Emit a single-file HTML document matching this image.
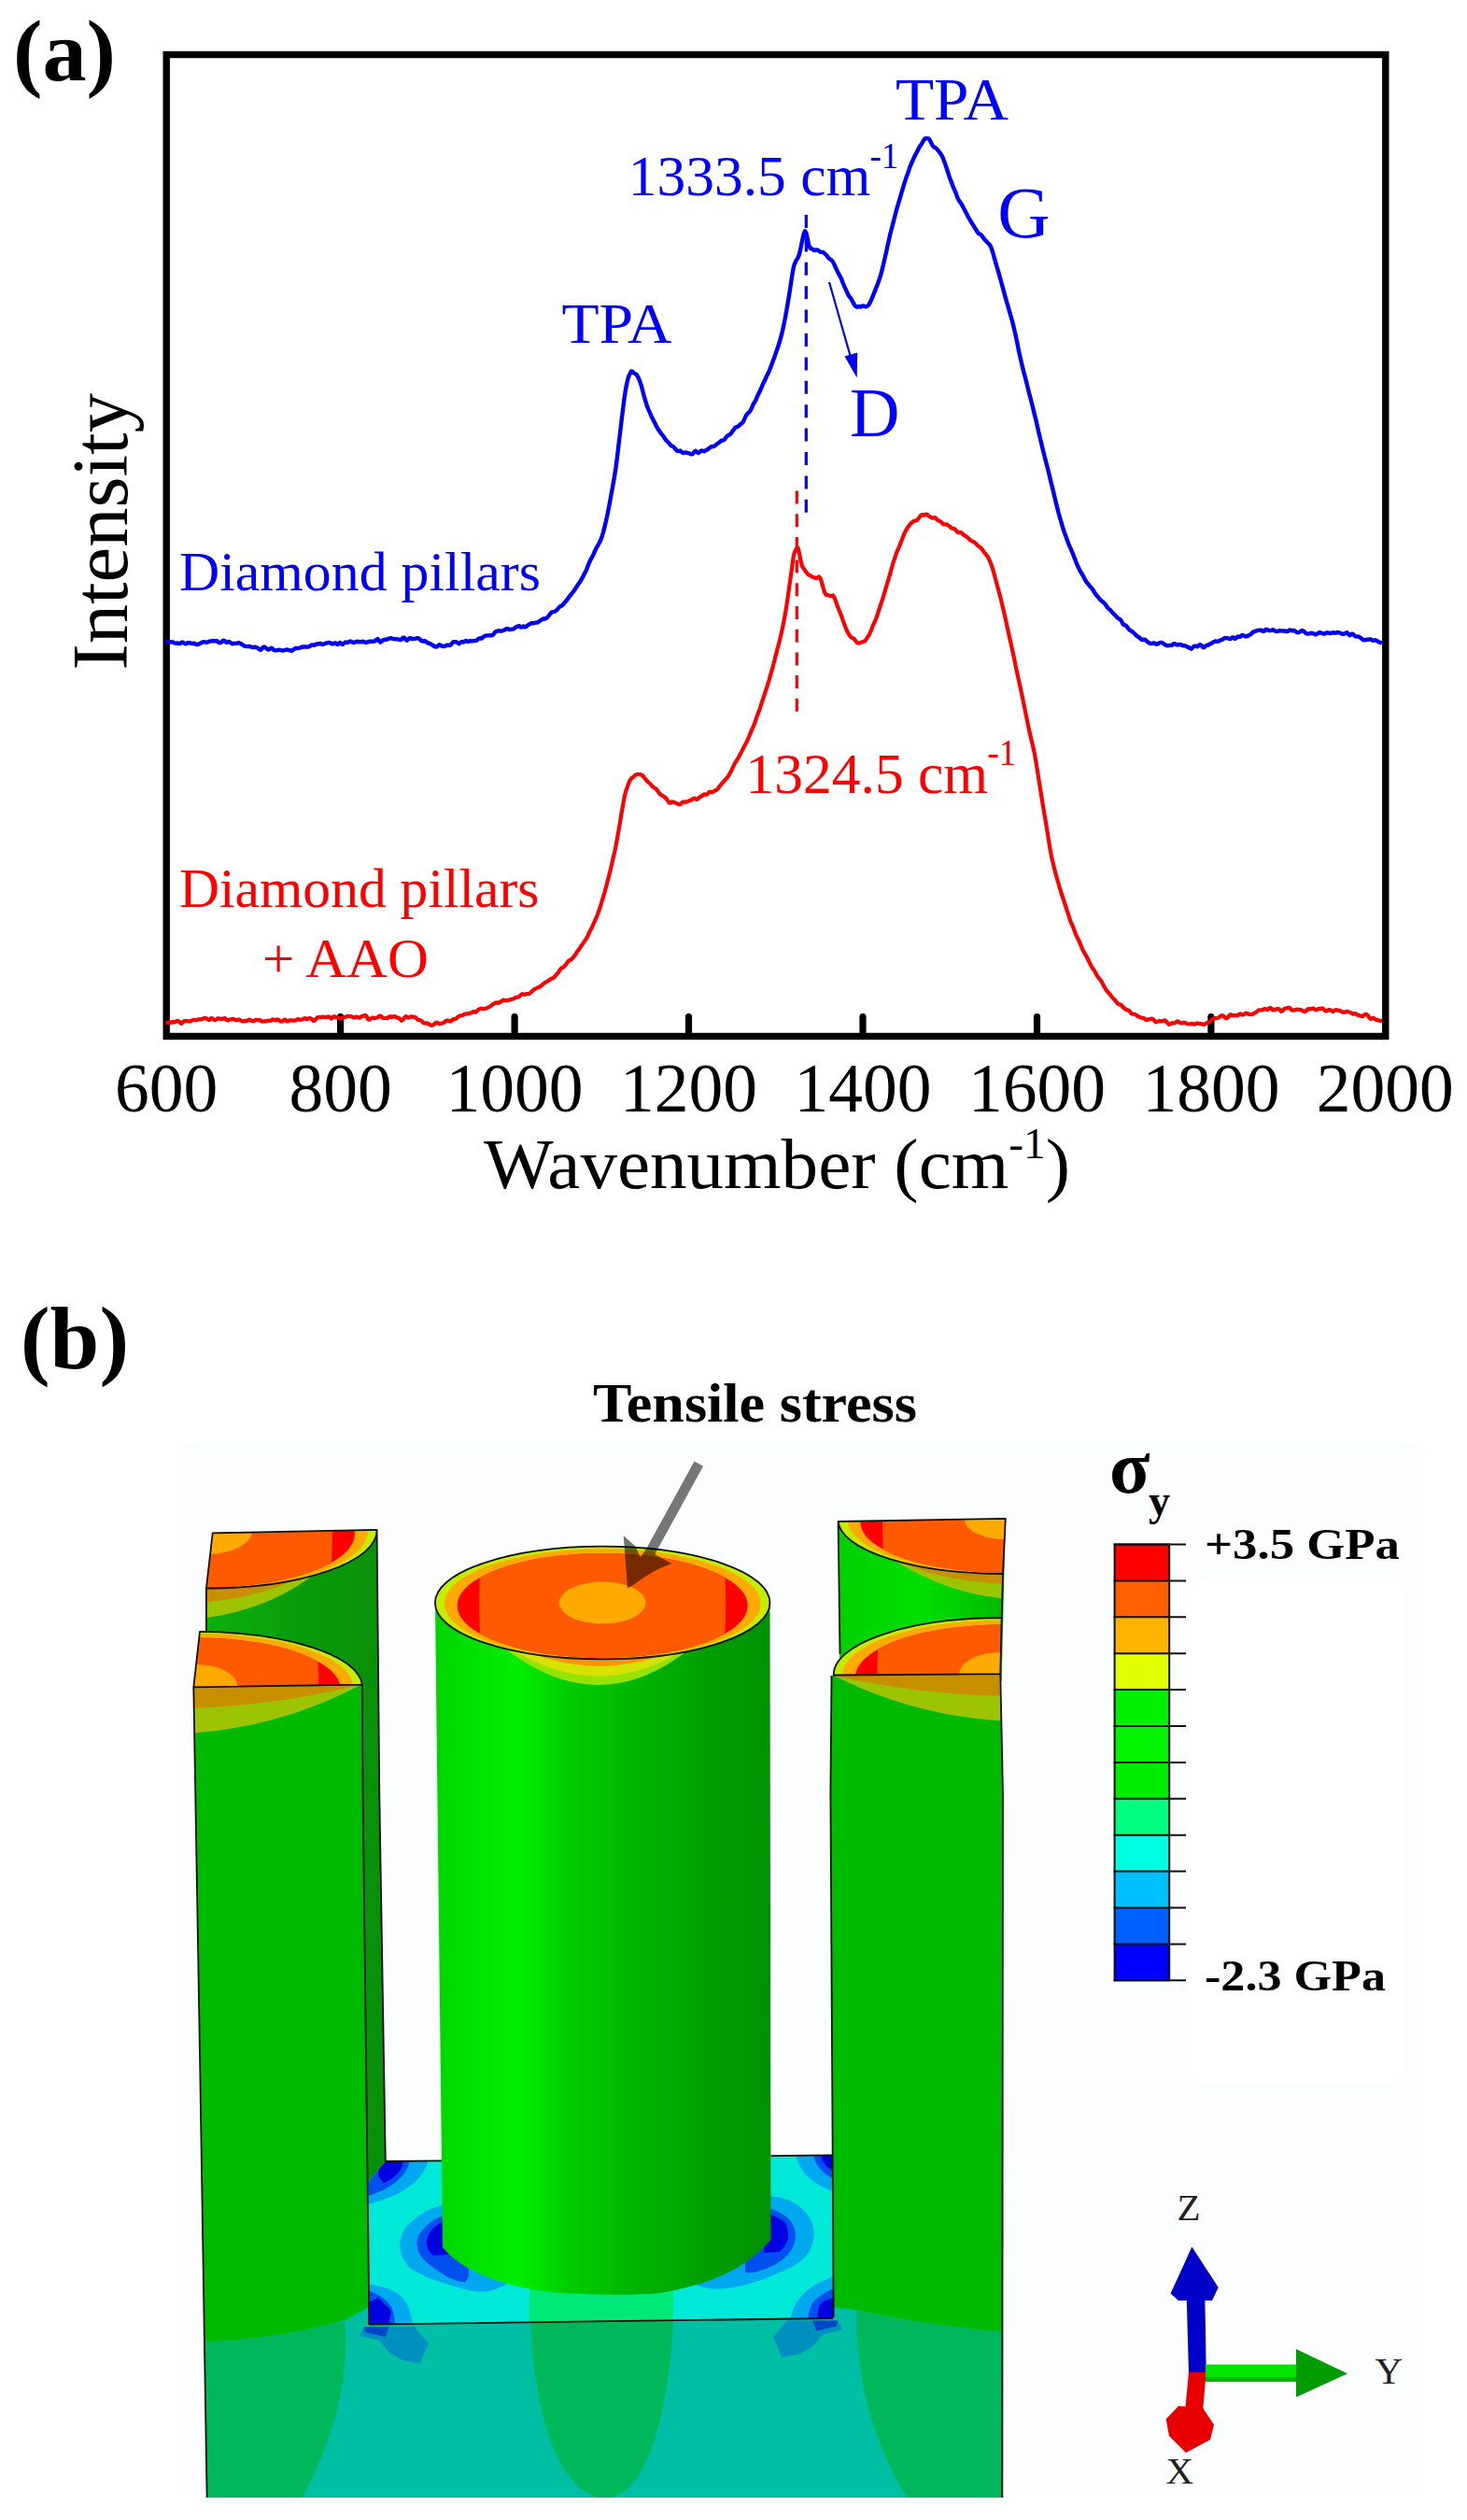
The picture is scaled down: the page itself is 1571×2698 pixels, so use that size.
<!DOCTYPE html>
<html><head><meta charset="utf-8"><title>Figure</title>
<style>html,body{margin:0;padding:0;background:#fff;}svg{display:block}</style></head>
<body>
<svg width="1571" height="2698" viewBox="0 0 1571 2698">
<rect width="1571" height="2698" fill="#fff"/>
<g id="b">
<rect x="188" y="1546" width="1337" height="1126" fill="#fbfdfe"/><rect x="1276" y="1690" width="228" height="542" rx="20" fill="#ffffff"/>
<defs>
<linearGradient id="cyl" x1="0" x2="1" y1="0" y2="0">
<stop offset="0" stop-color="#00d600"/><stop offset="0.25" stop-color="#00ee00"/><stop offset="0.40" stop-color="#00cc00"/><stop offset="0.62" stop-color="#00b200"/><stop offset="0.86" stop-color="#009a00"/><stop offset="1" stop-color="#009200"/></linearGradient>
<linearGradient id="bl" x1="0" x2="1" y1="0" y2="0">
<stop offset="0" stop-color="#0cb00c"/><stop offset="0.5" stop-color="#0a9c0a"/><stop offset="1" stop-color="#089008"/></linearGradient>
<linearGradient id="br" x1="0" x2="1" y1="0" y2="0">
<stop offset="0" stop-color="#00d000"/><stop offset="0.5" stop-color="#00e000"/><stop offset="1" stop-color="#00b800"/></linearGradient>
<clipPath id="cBL"><path d="M227.7,1641.3 L403.6,1637.8 A182,62 0 0 1 220.9,1700.5 Z"/></clipPath>
<clipPath id="cFL"><path d="M214,1746.9 A178,59 0 0 1 387.8,1803.6 L207.3,1806.3 Z"/></clipPath>
<clipPath id="cBR"><path d="M897.6,1629 L1076.8,1625.8 L1074,1685 A178,58 0 0 1 897.6,1629 Z"/></clipPath>
<clipPath id="cFR"><path d="M892.7,1793.5 A180,61 0 0 1 1072.7,1732 L1071.3,1792.2 Z"/></clipPath>
<clipPath id="cC"><ellipse cx="645.2" cy="1716" rx="179.3" ry="60.4"/></clipPath>
<clipPath id="cFloor"><path d="M394.5,2488.6 L394.2,2337 L412.8,2314 L892,2307.4 L892.2,2482 Z"/></clipPath>
<clipPath id="cBLside"><path d="M220.9,1700.5 A182,62 0 0 0 403.6,1637.8 L412.8,2314 L395,2320 L220,1760 Z"/></clipPath>
<clipPath id="cBRside"><path d="M897.6,1629 A178,58 0 0 0 1074,1685 L1074,1800 L899.5,1800 Z"/></clipPath>
<clipPath id="cFLface"><path d="M207.3,1806.3 L387.8,1803.6 L395.4,2489 L221.6,2674 Z"/></clipPath>
<clipPath id="cFRface"><path d="M890.5,1794 L1071.3,1792.2 L1073.3,2674 L892.7,2481 Z"/></clipPath>
<clipPath id="cCyl"><path d="M466,1716 L474,2406 C490,2425 520,2444 584.5,2453.6 C620,2457 680,2458 705,2455 C760,2447 800,2428 825.5,2398 L824.5,1716 Z"/></clipPath>
</defs>
<path d="M227.7,1641.3 L403.6,1637.8 L406.3,1920 L412.8,2314 L394,2338 L300,2338 L220.9,1760 L220.9,1700.5 Z" fill="url(#bl)"/>
<g clip-path="url(#cBLside)">
<path d="M215,1690 L215,1733 Q300,1722 352,1672 Z" fill="#9cc400"/>
<path d="M215,1690 L215,1716 Q290,1710 345,1676 Z" fill="#c89000"/>
</g>
<g clip-path="url(#cBL)">
<ellipse cx="222" cy="1639" rx="182" ry="62" fill="#c4ee00"/>
<ellipse cx="222" cy="1640" rx="172.0" ry="60.3" fill="#ffaa00"/>
<ellipse cx="222" cy="1642" rx="158.0" ry="57.4" fill="#ff0000"/>
<clipPath id="cBL_in"><ellipse cx="222" cy="1642" rx="158.0" ry="57.4"/></clipPath>
<g clip-path="url(#cBL_in)"><path d="M91.0,1577 Q85.0,1639 91.0,1701 L353.0,1701 Q359.0,1639 353.0,1577 Z" fill="#ff5a00"/></g>
<ellipse cx="222" cy="1639" rx="48" ry="25" fill="#ffaa00"/>
</g>
<path d="M227.7,1641.3 L403.6,1637.8 A182,62 0 0 1 220.9,1700.5 Z M403.6,1637.8 L406.3,1920 L412.8,2314 M220.9,1700.5 L220.9,1748" stroke="#101008" stroke-width="1.8" fill="none" stroke-linejoin="round"/>
<path d="M897.6,1629 L1076.8,1625.8 L1072.7,1800 L899.5,1800 Z" fill="url(#br)"/>
<g clip-path="url(#cBRside)">
<path d="M1080,1680 L1080,1712 Q1010,1706 950,1666 Z" fill="#9cc400"/>
<path d="M1080,1680 L1080,1696 Q1010,1694 958,1670 Z" fill="#c89000"/>
</g>
<g clip-path="url(#cBR)">
<ellipse cx="1076" cy="1627" rx="178" ry="58" fill="#c4ee00"/>
<ellipse cx="1076" cy="1628" rx="168.2" ry="56.4" fill="#ffaa00"/>
<ellipse cx="1076" cy="1630" rx="154.5" ry="53.7" fill="#ff0000"/>
<clipPath id="cBR_in"><ellipse cx="1076" cy="1630" rx="154.5" ry="53.7"/></clipPath>
<g clip-path="url(#cBR_in)"><path d="M947.8,1569 Q941.8,1627 947.8,1685 L1204.2,1685 Q1210.2,1627 1204.2,1569 Z" fill="#ff5a00"/></g>
<ellipse cx="1076" cy="1627" rx="43" ry="21" fill="#ffaa00"/>
</g>
<path d="M897.6,1629 L1076.8,1625.8 L1074,1685 A178,58 0 0 1 897.6,1629 Z M897.6,1629 L899.5,1771 M1074,1685 L1072.7,1733" stroke="#101008" stroke-width="1.8" fill="none" stroke-linejoin="round"/>
<path d="M207.3,1806.3 L387.8,1803.6 L388.6,1920 L395.4,2489 L892.7,2481 L889.4,1920 L890.5,1794 L1071.3,1792.2 L1074,1920 L1073.3,2674 L221.6,2674 L214,2200 Z" fill="#00ba00"/>
<clipPath id="cBase"><path d="M217.8,2440 L395.4,2440 L395.4,2489 L892.7,2481 L892.7,2440 L1073.3,2440 L1073.3,2674 L221.6,2674 Z"/></clipPath>
<g clip-path="url(#cBase)">
<path d="M200,2508 Q300,2506 371,2483 L395,2470 L892,2470 L916,2473 Q990,2490 1080,2497 L1080,2680 L200,2680 Z" fill="#00bfa5"/>
<path d="M200,2508 Q300,2506 369,2484 C373,2530 368,2590 324,2674 L200,2674 Z" fill="#00b85c"/>
<path d="M567.7,2480 C572,2590 598,2662 640,2674 L655,2674 C696,2662 716,2580 721.5,2480 Z" fill="#00b85c"/>
<path d="M1080,2497 Q990,2490 917,2474 C917,2530 926,2600 971.4,2674 L1080,2674 Z" fill="#00b85c"/>
<path d="M384.8,2501.0 L389.6,2491.0 L444.0,2491.0 L459.0,2508.7 L449.7,2530.6 L430.6,2526.8 L417.0,2519.0 L405.8,2505.8 Z" fill="#0090c0"/>
<path d="M389.6,2491.0 L417.0,2491.0 L412.5,2502.0 L391.5,2497.0 Z" fill="#0046c8"/>
<path d="M902.2,2494.5 L897.4,2484.5 L843.0,2484.5 L828.0,2502.2 L837.3,2524.1 L856.4,2520.3 L870.0,2512.5 L881.2,2499.3 Z" fill="#0090c0"/>
<path d="M897.4,2484.5 L870.0,2484.5 L874.5,2495.5 L895.5,2490.5 Z" fill="#0046c8"/>
</g>
<g clip-path="url(#cFloor)">
<rect x="390" y="2300" width="510" height="195" fill="#00e8d8"/>
<path d="M567,2440 L721,2440 L721,2492 L567,2492 Z" fill="#00e878"/>
<path d="M480,2359.5 C462,2362 447.5,2371.8 436,2383 C426,2396 427,2408 431,2416.8 C436,2426 440,2430 447.5,2433 C460,2440 470,2443 482,2446.4 C495,2450 505,2453 513,2453.6 C522,2454 530,2452 542,2446 L534,2400 L480,2400 Z" fill="#00a8f0"/>
<path d="M480,2370.8 C470,2373 462,2378 457.7,2382 C449,2390 446,2396 446.5,2402.5 C447,2410 450,2416 455.7,2420.9 C462,2427 470,2432 478,2437 C485,2441 492,2443 498.6,2443.4 L502,2437 L502,2400 L480,2400 Z" fill="#0050f0"/>
<path d="M480,2376 C470,2380 465,2384 461.8,2388 C458,2393 456.5,2398 456.7,2402.5 C457.5,2408 460,2412 463.8,2414.7 L480,2414 Z" fill="#0000e0"/>
<path d="M820,2351 C838,2352 848,2356 855,2361.6 C866,2370 871,2380 871.5,2388 C872,2398 870,2406 865.4,2412.7 C858,2422 848,2428 834.7,2433 C822,2439 808,2444 793.8,2447.5 C780,2450 772,2451 764,2450.5 C756,2450 750,2448 742,2445 L759,2400 L820,2400 Z" fill="#00a8f0"/>
<path d="M820,2363.6 C832,2366 840,2371 845,2376 C850,2382 852,2388 852,2394 C851.5,2403 848,2410 840.9,2416.8 C833,2424 824,2428 814,2431 C808,2433 804,2433.5 798,2433 L798,2400 L820,2400 Z" fill="#0050f0"/>
<path d="M820,2369.8 C830,2372 837,2376 840.9,2380 C843.5,2385 844.5,2390 844,2396 C842.5,2402 839,2407 834.7,2410.7 L818,2412 Z" fill="#0000e0"/>
<path d="M390,2300 L457.7,2300 L457.7,2316 C452,2336 425,2354 390,2360.5 Z" fill="#00a8f0"/>
<path d="M390,2300 L438,2300 L438,2316 C434,2332 415,2346 390,2352 Z" fill="#0050f0"/>
<path d="M405,2310 L431,2310 L431,2318 C428,2327 420,2333 411,2337.5 L405,2330 Z" fill="#0000e0"/>
<path d="M900,2300 L853,2300 L853,2310.4 C858,2328 872,2340 900,2349 Z" fill="#00a8f0"/>
<path d="M900,2300 L871.5,2300 L871.5,2310 C875,2321 883,2329 900,2336 Z" fill="#0050f0"/>
<path d="M900,2300 L879.7,2300 L879.7,2310 C882,2317 886,2322 900,2329 Z" fill="#0000e0"/>
<path d="M390,2445 C410,2447 424,2452 431,2460 C438,2468 441,2477 442.4,2495 L390,2495 Z" fill="#00a8f0"/>
<path d="M390,2451.5 C405,2455 414,2462 419,2470 C422,2477 423,2482 423,2495 L390,2495 Z" fill="#0050f0"/>
<path d="M390,2468 L405,2460 L419,2474 L415,2495 L390,2495 Z" fill="#0000e0"/>
<path d="M900,2435 C880,2441 868,2448 861,2455.6 C852,2465 847,2473 845,2490 L900,2490 Z" fill="#00a8f0"/>
<path d="M900,2447 C885,2453 877,2458 871.5,2463.8 C867,2470 865.5,2476 865.4,2490 L900,2490 Z" fill="#0050f0"/>
<path d="M900,2458 C887,2461 881,2464 877.7,2468 C875.8,2473 875.6,2478 875.6,2490 L900,2490 Z" fill="#0000e0"/>
</g>
<path d="M395.4,2488.6 L892.2,2482 M412.8,2314 L474,2313.3 M825.5,2308.2 L892,2307.4" stroke="#101008" stroke-width="1.8" fill="none" stroke-linejoin="round"/>
<g clip-path="url(#cFLface)">
<path d="M200,1800 L200,1856 Q300,1850 388,1803 Z" fill="#9cc400"/>
<path d="M200,1800 L200,1829 Q300,1826 388,1803 Z" fill="#c89000"/>
</g>
<g clip-path="url(#cFL)">
<ellipse cx="210" cy="1805" rx="178" ry="59" fill="#c4ee00"/>
<ellipse cx="210" cy="1806" rx="168.2" ry="57.3" fill="#ffaa00"/>
<ellipse cx="210" cy="1808" rx="154.5" ry="54.6" fill="#ff0000"/>
<clipPath id="cFL_in"><ellipse cx="210" cy="1808" rx="154.5" ry="54.6"/></clipPath>
<g clip-path="url(#cFL_in)"><path d="M81.8,1746 Q75.8,1805 81.8,1864 L338.2,1864 Q344.2,1805 338.2,1746 Z" fill="#ff5a00"/></g>
<ellipse cx="210" cy="1805" rx="44" ry="23" fill="#ffaa00"/>
</g>
<path d="M214,1746.9 A178,59 0 0 1 387.8,1803.6 L207.3,1806.3 Z M387.8,1803.6 L388.6,1920 L395.4,2489 M207.3,1806.3 L214,2200 L221.6,2674" stroke="#101008" stroke-width="1.8" fill="none" stroke-linejoin="round"/>
<g clip-path="url(#cFRface)">
<path d="M1080,1790 L1080,1843 Q980,1838 893,1794 Z" fill="#9cc400"/>
<path d="M1080,1790 L1080,1816 Q980,1814 893,1794 Z" fill="#c89000"/>
</g>
<g clip-path="url(#cFR)">
<ellipse cx="1072" cy="1793" rx="180" ry="61" fill="#c4ee00"/>
<ellipse cx="1072" cy="1794" rx="170.1" ry="59.3" fill="#ffaa00"/>
<ellipse cx="1072" cy="1796" rx="156.2" ry="56.4" fill="#ff0000"/>
<clipPath id="cFR_in"><ellipse cx="1072" cy="1796" rx="156.2" ry="56.4"/></clipPath>
<g clip-path="url(#cFR_in)"><path d="M942.4,1732 Q936.4,1793 942.4,1854 L1201.6,1854 Q1207.6,1793 1201.6,1732 Z" fill="#ff5a00"/></g>
<ellipse cx="1072" cy="1793" rx="45" ry="24" fill="#ffaa00"/>
</g>
<path d="M892.7,1793.5 A180,61 0 0 1 1072.7,1732 L1071.3,1792.2 Z M890.5,1794 L889.4,1920 L892.7,2481 M1071.3,1792.2 L1074,1920 L1073.3,2674" stroke="#101008" stroke-width="1.8" fill="none" stroke-linejoin="round"/>
<path d="M466,1716 L474,2406 C490,2425 520,2444 584.5,2453.6 C620,2457 680,2458 705,2455 C760,2447 800,2428 825.5,2398 L824.5,1716 Z" fill="url(#cyl)"/>
<g clip-path="url(#cCyl)">
<path d="M537,1730 L537,1762 Q643,1847 745,1760 L745,1730 Z" fill="#96e200"/>
<path d="M548,1730 L548,1766 Q643,1824 736,1764 L736,1730 Z" fill="#d8e200"/>
<path d="M566,1730 L566,1769 Q643,1799 720,1768 L720,1730 Z" fill="#fa9600"/>
</g>
<g clip-path="url(#cC)">
<ellipse cx="645.2" cy="1716" rx="179.3" ry="60.4" fill="#c4ee00"/>
<ellipse cx="645.2" cy="1717" rx="169.4" ry="58.7" fill="#ffaa00"/>
<ellipse cx="645.2" cy="1719" rx="155.6" ry="55.9" fill="#ff0000"/>
<clipPath id="cC_in"><ellipse cx="645.2" cy="1719" rx="155.6" ry="55.9"/></clipPath>
<g clip-path="url(#cC_in)"><path d="M516.1,1655.6 Q510.1,1716 516.1,1776.4 L774.3,1776.4 Q780.3,1716 774.3,1655.6 Z" fill="#ff5a00"/></g>
<ellipse cx="645.2" cy="1716" rx="46.5" ry="22.5" fill="#ffaa00"/>
</g>
<ellipse cx="645.2" cy="1716" rx="179.3" ry="60.4" stroke="#101008" stroke-width="1.8" fill="none" stroke-linejoin="round"/>
<g opacity="0.53"><line x1="748.3" y1="1567.2" x2="696" y2="1662.4" stroke="#000" stroke-width="10.8"/>
<path d="M672,1700.8 L667.7,1644 L681,1655.9 L685.8,1667.4 L691.5,1658.8 L702,1664.5 L719.2,1674 Q699,1681 681,1695 Z" fill="#000"/></g>
<text x="635" y="1521.6" font-size="59" font-family="Liberation Serif, serif" font-weight="bold" textLength="347" lengthAdjust="spacingAndGlyphs">Tensile stress</text>
<text x="22" y="1464.5" font-size="95" font-family="Liberation Serif, serif" font-weight="bold" textLength="116" lengthAdjust="spacingAndGlyphs">(b)</text>
<rect x="1193.6" y="1653.5" width="58.6" height="39.2" fill="#ff0000"/>
<rect x="1193.6" y="1692.4" width="58.6" height="39.2" fill="#ff5f00"/>
<rect x="1193.6" y="1731.3" width="58.6" height="39.2" fill="#ffb400"/>
<rect x="1193.6" y="1770.2" width="58.6" height="39.2" fill="#e0ff00"/>
<rect x="1193.6" y="1809.1" width="58.6" height="39.2" fill="#00f000"/>
<rect x="1193.6" y="1848.0" width="58.6" height="39.2" fill="#00f400"/>
<rect x="1193.6" y="1886.9" width="58.6" height="39.2" fill="#00ec00"/>
<rect x="1193.6" y="1925.8" width="58.6" height="39.2" fill="#00ff80"/>
<rect x="1193.6" y="1964.7" width="58.6" height="39.2" fill="#00ffe0"/>
<rect x="1193.6" y="2003.6" width="58.6" height="39.2" fill="#00c0ff"/>
<rect x="1193.6" y="2042.5" width="58.6" height="39.2" fill="#0060ff"/>
<rect x="1193.6" y="2081.4" width="58.6" height="39.2" fill="#0000ff"/>
<line x1="1192.6" y1="1653.5" x2="1270" y2="1653.5" stroke="#101010" stroke-width="2"/>
<line x1="1192.6" y1="1692.4" x2="1270" y2="1692.4" stroke="#101010" stroke-width="2"/>
<line x1="1192.6" y1="1731.3" x2="1270" y2="1731.3" stroke="#101010" stroke-width="2"/>
<line x1="1192.6" y1="1770.2" x2="1270" y2="1770.2" stroke="#101010" stroke-width="2"/>
<line x1="1192.6" y1="1809.1" x2="1270" y2="1809.1" stroke="#101010" stroke-width="2"/>
<line x1="1192.6" y1="1848.0" x2="1270" y2="1848.0" stroke="#101010" stroke-width="2"/>
<line x1="1192.6" y1="1886.9" x2="1270" y2="1886.9" stroke="#101010" stroke-width="2"/>
<line x1="1192.6" y1="1925.8" x2="1270" y2="1925.8" stroke="#101010" stroke-width="2"/>
<line x1="1192.6" y1="1964.7" x2="1270" y2="1964.7" stroke="#101010" stroke-width="2"/>
<line x1="1192.6" y1="2003.6" x2="1270" y2="2003.6" stroke="#101010" stroke-width="2"/>
<line x1="1192.6" y1="2042.5" x2="1270" y2="2042.5" stroke="#101010" stroke-width="2"/>
<line x1="1192.6" y1="2081.4" x2="1270" y2="2081.4" stroke="#101010" stroke-width="2"/>
<line x1="1192.6" y1="2120.3" x2="1270" y2="2120.3" stroke="#101010" stroke-width="2"/>
<rect x="1193.6" y="1653.5" width="58.6" height="466.8" fill="none" stroke="#101010" stroke-width="2"/>
<text x="1290" y="1668.5" font-size="47" font-family="Liberation Serif, serif" font-weight="bold" textLength="209" lengthAdjust="spacingAndGlyphs">+3.5 GPa</text>
<text x="1290" y="2131" font-size="47" font-family="Liberation Serif, serif" font-weight="bold" textLength="194" lengthAdjust="spacingAndGlyphs">-2.3 GPa</text>
<text x="1188" y="1598" font-size="80" font-family="Liberation Serif, serif" font-weight="bold">σ</text>
<text x="1230" y="1622" font-size="46" font-family="Liberation Serif, serif" font-weight="bold">y</text>
<path d="M1270.8,2462 L1290.4,2462 L1291.7,2541 L1273,2541 Z" fill="#0000c8"/>
<path d="M1276.4,2405.6 L1304.7,2449 L1298,2463 L1262,2463 L1253.6,2455.5 Z" fill="#0000c8"/>
<path d="M1273,2540 L1291.7,2540 L1288,2582 L1269,2582 Z" fill="#e80000"/>
<path d="M1262,2576 L1288,2578 L1300,2596 L1296,2612 L1270,2626 L1252,2608 L1248.7,2590 Z" fill="#e80000"/>
<rect x="1291" y="2531.5" width="99" height="18.5" fill="#00e400"/>
<rect x="1291" y="2545" width="99" height="5" fill="#00b800"/>
<path d="M1388,2515 L1443,2541.3 L1388,2566.6 Z" fill="#009c00"/>
<text x="1260.5" y="2377" font-size="41" font-family="Liberation Serif, serif" fill="#222">Z</text>
<text x="1472.5" y="2552" font-size="41" font-family="Liberation Serif, serif" fill="#222">Y</text>
<text x="1248.5" y="2658.6" font-size="41" font-family="Liberation Serif, serif" fill="#222">X</text>
</g>
<g id="a">
<rect x="178.2" y="58.5" width="1305.6" height="1051" fill="none" stroke="#000" stroke-width="7.4"/>
<line x1="364.6" y1="1108" x2="364.6" y2="1088.5" stroke="#000" stroke-width="7.2" stroke-linecap="round"/>
<line x1="551.1" y1="1108" x2="551.1" y2="1088.5" stroke="#000" stroke-width="7.2" stroke-linecap="round"/>
<line x1="737.5" y1="1108" x2="737.5" y2="1088.5" stroke="#000" stroke-width="7.2" stroke-linecap="round"/>
<line x1="924.0" y1="1108" x2="924.0" y2="1088.5" stroke="#000" stroke-width="7.2" stroke-linecap="round"/>
<line x1="1110.5" y1="1108" x2="1110.5" y2="1088.5" stroke="#000" stroke-width="7.2" stroke-linecap="round"/>
<line x1="1296.9" y1="1108" x2="1296.9" y2="1088.5" stroke="#000" stroke-width="7.2" stroke-linecap="round"/>
<text x="178.2" y="1189.5" font-size="73.5" text-anchor="middle" font-family="Liberation Serif, serif">600</text>
<text x="364.6" y="1189.5" font-size="73.5" text-anchor="middle" font-family="Liberation Serif, serif">800</text>
<text x="551.1" y="1189.5" font-size="73.5" text-anchor="middle" font-family="Liberation Serif, serif">1000</text>
<text x="737.5" y="1189.5" font-size="73.5" text-anchor="middle" font-family="Liberation Serif, serif">1200</text>
<text x="924.0" y="1189.5" font-size="73.5" text-anchor="middle" font-family="Liberation Serif, serif">1400</text>
<text x="1110.5" y="1189.5" font-size="73.5" text-anchor="middle" font-family="Liberation Serif, serif">1600</text>
<text x="1296.9" y="1189.5" font-size="73.5" text-anchor="middle" font-family="Liberation Serif, serif">1800</text>
<text x="1483.3" y="1189.5" font-size="73.5" text-anchor="middle" font-family="Liberation Serif, serif">2000</text>
<text x="518" y="1271.7" font-size="77" font-family="Liberation Serif, serif" textLength="628" lengthAdjust="spacingAndGlyphs">Wavenumber (cm<tspan font-size="46" dy="-32">-1</tspan><tspan dy="32">)</tspan></text>
<text transform="translate(136,717.5) rotate(-90)" font-size="84" font-family="Liberation Serif, serif" textLength="296.5" lengthAdjust="spacingAndGlyphs">Intensity</text>
<text x="14" y="85.5" font-size="94" font-weight="bold" font-family="Liberation Serif, serif" textLength="110" lengthAdjust="spacingAndGlyphs">(a)</text>
<path d="M178.0,1095.7 L179.5,1094.8 L181.0,1094.6 L182.5,1095.1 L184.0,1094.2 L185.5,1093.9 L187.0,1094.4 L188.5,1093.5 L190.0,1092.8 L191.5,1093.4 L193.0,1095.0 L194.5,1095.8 L196.0,1094.2 L197.5,1093.0 L199.0,1093.2 L200.5,1093.0 L202.0,1093.3 L203.5,1093.6 L205.0,1092.7 L206.5,1092.1 L208.0,1091.8 L209.5,1092.1 L211.0,1092.1 L212.5,1091.4 L214.0,1091.3 L215.5,1091.4 L217.0,1090.8 L218.5,1090.0 L220.0,1089.9 L221.5,1090.7 L223.0,1091.9 L224.5,1091.9 L226.0,1090.1 L227.5,1090.3 L229.0,1091.7 L230.5,1092.2 L232.0,1091.3 L233.5,1090.2 L235.0,1090.5 L236.5,1090.9 L238.0,1090.9 L239.5,1090.4 L241.0,1090.2 L242.5,1091.9 L244.0,1092.5 L245.5,1091.5 L247.0,1091.4 L248.5,1091.2 L250.0,1090.8 L251.5,1091.7 L253.0,1092.4 L254.5,1091.8 L256.0,1091.6 L257.5,1092.2 L259.0,1093.2 L260.5,1093.5 L262.0,1092.9 L263.5,1093.1 L265.0,1092.7 L266.5,1091.6 L268.0,1092.1 L269.5,1093.0 L271.0,1093.3 L272.5,1092.7 L274.0,1091.8 L275.5,1092.2 L277.0,1092.2 L278.5,1092.0 L280.0,1093.4 L281.5,1093.7 L283.0,1093.3 L284.5,1093.4 L286.0,1093.1 L287.5,1092.5 L289.0,1092.8 L290.5,1092.7 L292.0,1091.4 L293.5,1092.0 L295.0,1092.5 L296.5,1091.3 L298.0,1091.7 L299.5,1092.8 L301.0,1093.6 L302.5,1093.6 L304.0,1092.0 L305.5,1091.6 L307.0,1093.3 L308.5,1093.5 L310.0,1092.4 L311.5,1092.3 L313.0,1092.6 L314.5,1092.5 L316.0,1092.6 L317.5,1092.1 L319.0,1091.1 L320.5,1091.6 L322.0,1091.8 L323.5,1091.5 L325.0,1090.9 L326.5,1090.0 L328.0,1090.9 L329.5,1090.9 L331.0,1090.0 L332.5,1090.2 L334.0,1091.2 L335.5,1092.8 L337.0,1092.7 L338.5,1090.8 L340.0,1089.4 L341.5,1089.1 L343.0,1089.2 L344.5,1088.9 L346.0,1088.6 L347.5,1088.8 L349.0,1089.0 L350.5,1088.8 L352.0,1088.4 L353.5,1089.5 L355.0,1090.5 L356.5,1088.8 L358.0,1088.1 L359.5,1089.1 L361.0,1089.3 L362.5,1089.7 L364.0,1090.4 L365.5,1090.7 L367.0,1089.8 L368.5,1089.0 L370.0,1088.8 L371.5,1088.0 L373.0,1088.0 L374.5,1088.1 L376.0,1088.2 L377.5,1089.0 L379.0,1089.5 L380.5,1089.1 L382.0,1088.6 L383.5,1089.3 L385.0,1089.8 L386.5,1088.7 L388.0,1087.8 L389.5,1087.6 L391.0,1086.8 L392.5,1088.0 L394.0,1091.2 L395.5,1091.8 L397.0,1090.7 L398.5,1089.7 L400.0,1089.7 L401.5,1090.1 L403.0,1089.8 L404.5,1089.2 L406.0,1088.0 L407.5,1087.5 L409.0,1088.8 L410.5,1090.0 L412.0,1090.0 L413.5,1089.9 L415.0,1090.1 L416.5,1088.8 L418.0,1088.2 L419.5,1089.1 L421.0,1088.5 L422.5,1087.9 L424.0,1088.9 L425.5,1089.8 L427.0,1089.7 L428.5,1091.1 L430.0,1092.8 L431.5,1091.9 L433.0,1089.8 L434.5,1088.2 L436.0,1088.8 L437.5,1089.6 L439.0,1088.7 L440.5,1088.3 L442.0,1088.8 L443.5,1088.7 L445.0,1089.3 L446.5,1090.9 L448.0,1092.0 L449.5,1092.1 L451.0,1092.7 L452.5,1094.1 L454.0,1095.5 L455.5,1095.7 L457.0,1095.3 L458.5,1095.9 L460.0,1097.1 L461.5,1097.6 L463.0,1097.8 L464.5,1096.9 L466.0,1095.4 L467.5,1094.6 L469.0,1095.2 L470.5,1096.3 L472.0,1096.0 L473.5,1095.5 L475.0,1095.2 L476.5,1093.8 L478.0,1092.6 L479.5,1092.6 L481.0,1093.1 L482.5,1093.6 L484.0,1092.6 L485.5,1091.1 L487.0,1091.1 L488.5,1090.6 L490.0,1089.2 L491.5,1088.0 L493.0,1087.4 L494.5,1087.4 L496.0,1086.8 L497.5,1085.6 L499.0,1085.5 L500.5,1085.5 L502.0,1085.0 L503.5,1084.8 L505.0,1084.3 L506.5,1083.1 L508.0,1083.2 L509.5,1083.8 L511.0,1082.4 L512.5,1080.8 L514.0,1080.1 L515.5,1079.7 L517.0,1080.1 L518.5,1080.1 L520.0,1079.7 L521.5,1079.1 L523.0,1078.4 L524.5,1077.8 L526.0,1076.7 L527.5,1075.3 L529.0,1074.5 L530.5,1073.6 L532.0,1073.4 L533.5,1074.0 L535.0,1073.1 L536.5,1072.2 L538.0,1071.2 L539.5,1070.5 L541.0,1071.1 L542.5,1071.2 L544.0,1071.0 L545.5,1070.6 L547.0,1069.9 L548.5,1069.7 L550.0,1069.4 L551.5,1068.3 L553.0,1067.8 L554.5,1067.7 L556.0,1067.1 L557.5,1065.6 L559.0,1064.2 L560.5,1064.5 L562.0,1064.8 L563.5,1064.1 L565.0,1064.1 L566.5,1064.0 L568.0,1062.9 L569.5,1061.6 L571.0,1060.1 L572.5,1059.0 L574.0,1058.4 L575.5,1057.7 L577.0,1057.0 L578.5,1056.2 L580.0,1055.1 L581.5,1053.6 L583.0,1052.4 L584.5,1051.7 L586.0,1050.7 L587.5,1049.7 L589.0,1048.6 L590.5,1047.8 L592.0,1047.3 L593.5,1046.3 L595.0,1044.4 L596.5,1042.7 L598.0,1041.1 L599.5,1038.5 L601.0,1036.6 L602.5,1036.0 L604.0,1034.9 L605.5,1033.3 L607.0,1031.4 L608.5,1029.2 L610.0,1028.0 L611.5,1027.6 L613.0,1026.0 L614.5,1024.0 L616.0,1022.3 L617.5,1019.8 L619.0,1017.6 L620.5,1015.8 L622.0,1013.3 L623.5,1011.2 L625.0,1009.1 L626.5,1006.9 L628.0,1004.8 L629.5,1001.9 L631.0,998.4 L632.5,995.5 L634.0,992.7 L635.5,989.4 L637.0,985.9 L638.5,982.6 L640.0,979.0 L641.5,974.9 L643.0,970.4 L644.5,965.2 L646.0,960.2 L647.5,955.4 L649.0,949.8 L650.5,944.0 L652.0,938.2 L653.5,932.3 L655.0,926.1 L656.5,919.3 L658.0,912.7 L659.5,905.9 L661.0,897.7 L662.5,889.2 L664.0,880.4 L665.5,871.2 L667.0,862.6 L668.5,854.0 L670.0,847.7 L671.5,843.6 L673.0,839.4 L674.5,835.6 L676.0,833.5 L677.5,832.3 L679.0,831.0 L680.5,829.7 L682.0,829.1 L683.5,829.0 L685.0,829.0 L686.5,829.4 L688.0,830.3 L689.5,832.0 L691.0,833.9 L692.5,835.7 L694.0,837.3 L695.5,838.4 L697.0,840.0 L698.5,841.8 L700.0,842.9 L701.5,843.9 L703.0,845.2 L704.5,847.1 L706.0,849.2 L707.5,850.7 L709.0,851.9 L710.5,852.4 L712.0,853.5 L713.5,855.2 L715.0,857.0 L716.5,859.5 L718.0,859.7 L719.5,858.4 L721.0,858.5 L722.5,859.3 L724.0,859.9 L725.5,860.5 L727.0,861.2 L728.5,861.2 L730.0,859.5 L731.5,858.5 L733.0,858.7 L734.5,858.7 L736.0,858.3 L737.5,857.6 L739.0,857.1 L740.5,856.3 L742.0,855.2 L743.5,854.7 L745.0,855.5 L746.5,856.0 L748.0,854.6 L749.5,853.2 L751.0,852.7 L752.5,851.5 L754.0,850.3 L755.5,850.7 L757.0,850.7 L758.5,849.0 L760.0,847.7 L761.5,848.1 L763.0,848.3 L764.5,847.2 L766.0,846.3 L767.5,845.7 L769.0,844.2 L770.5,842.0 L772.0,840.0 L773.5,838.3 L775.0,836.9 L776.5,835.2 L778.0,833.4 L779.5,831.7 L781.0,829.1 L782.5,826.4 L784.0,823.5 L785.5,820.1 L787.0,817.2 L788.5,814.9 L790.0,812.4 L791.5,809.7 L793.0,807.1 L794.5,804.1 L796.0,801.0 L797.5,798.2 L799.0,795.4 L800.5,792.3 L802.0,789.0 L803.5,785.3 L805.0,781.6 L806.5,778.4 L808.0,774.8 L809.5,770.3 L811.0,765.9 L812.5,762.1 L814.0,758.0 L815.5,753.2 L817.0,748.7 L818.5,744.3 L820.0,739.6 L821.5,735.0 L823.0,730.2 L824.5,724.9 L826.0,719.6 L827.5,714.4 L829.0,708.7 L830.5,702.7 L832.0,696.7 L833.5,691.1 L835.0,685.5 L836.5,679.1 L838.0,672.3 L839.5,664.9 L841.0,656.7 L842.5,647.4 L844.0,637.0 L845.5,626.3 L847.0,616.0 L848.5,604.6 L850.0,594.4 L851.5,589.9 L853.0,587.4 L854.5,586.6 L856.0,592.2 L857.5,600.4 L859.0,606.1 L860.5,608.5 L862.0,610.5 L863.5,612.7 L865.0,614.6 L866.5,615.7 L868.0,616.4 L869.5,617.3 L871.0,618.1 L872.5,618.4 L874.0,619.2 L875.5,618.5 L877.0,617.5 L878.5,619.1 L880.0,623.6 L881.5,629.1 L883.0,633.9 L884.5,636.7 L886.0,637.2 L887.5,637.4 L889.0,638.1 L890.5,638.1 L892.0,637.5 L893.5,639.7 L895.0,643.8 L896.5,648.1 L898.0,652.1 L899.5,655.4 L901.0,659.3 L902.5,663.7 L904.0,667.7 L905.5,671.8 L907.0,675.5 L908.5,678.3 L910.0,680.5 L911.5,682.3 L913.0,683.0 L914.5,683.9 L916.0,685.8 L917.5,687.7 L919.0,688.6 L920.5,688.5 L922.0,687.9 L923.5,687.3 L925.0,686.9 L926.5,686.1 L928.0,683.9 L929.5,681.4 L931.0,679.2 L932.5,675.9 L934.0,672.0 L935.5,668.3 L937.0,665.0 L938.5,661.7 L940.0,657.0 L941.5,652.1 L943.0,647.7 L944.5,643.2 L946.0,638.7 L947.5,633.7 L949.0,628.4 L950.5,623.4 L952.0,618.3 L953.5,613.1 L955.0,607.9 L956.5,602.7 L958.0,598.1 L959.5,593.6 L961.0,589.5 L962.5,586.3 L964.0,582.7 L965.5,578.7 L967.0,574.9 L968.5,571.1 L970.0,568.2 L971.5,565.7 L973.0,563.4 L974.5,561.4 L976.0,559.8 L977.5,558.7 L979.0,557.7 L980.5,557.6 L982.0,557.1 L983.5,555.2 L985.0,553.3 L986.5,551.4 L988.0,550.9 L989.5,551.7 L991.0,550.9 L992.5,550.5 L994.0,551.9 L995.5,552.9 L997.0,553.9 L998.5,554.7 L1000.0,554.3 L1001.5,554.2 L1003.0,555.9 L1004.5,557.2 L1006.0,557.7 L1007.5,558.6 L1009.0,560.1 L1010.5,561.5 L1012.0,561.3 L1013.5,561.4 L1015.0,562.3 L1016.5,563.1 L1018.0,564.6 L1019.5,565.7 L1021.0,565.9 L1022.5,566.5 L1024.0,568.1 L1025.5,569.9 L1027.0,570.3 L1028.5,569.8 L1030.0,570.6 L1031.5,572.2 L1033.0,573.3 L1034.5,574.1 L1036.0,575.3 L1037.5,576.7 L1039.0,578.2 L1040.5,579.1 L1042.0,579.8 L1043.5,580.7 L1045.0,581.9 L1046.5,583.6 L1048.0,584.9 L1049.5,585.8 L1051.0,587.1 L1052.5,589.3 L1054.0,591.5 L1055.5,593.0 L1057.0,594.8 L1058.5,597.5 L1060.0,600.6 L1061.5,604.5 L1063.0,608.9 L1064.5,614.0 L1066.0,619.5 L1067.5,625.2 L1069.0,630.8 L1070.5,636.4 L1072.0,642.3 L1073.5,648.4 L1075.0,654.7 L1076.5,661.4 L1078.0,668.4 L1079.5,675.3 L1081.0,681.9 L1082.5,688.5 L1084.0,695.3 L1085.5,702.3 L1087.0,709.7 L1088.5,717.1 L1090.0,724.0 L1091.5,730.7 L1093.0,737.5 L1094.5,744.6 L1096.0,751.9 L1097.5,759.3 L1099.0,766.7 L1100.5,774.1 L1102.0,781.2 L1103.5,787.8 L1105.0,794.2 L1106.5,800.5 L1108.0,807.5 L1109.5,816.1 L1111.0,825.5 L1112.5,835.0 L1114.0,844.3 L1115.5,853.8 L1117.0,863.1 L1118.5,872.0 L1120.0,880.8 L1121.5,890.0 L1123.0,899.6 L1124.5,908.8 L1126.0,916.9 L1127.5,923.3 L1129.0,929.5 L1130.5,935.5 L1132.0,940.8 L1133.5,945.9 L1135.0,951.2 L1136.5,956.0 L1138.0,960.5 L1139.5,964.9 L1141.0,969.7 L1142.5,974.4 L1144.0,978.7 L1145.5,983.6 L1147.0,987.9 L1148.5,991.0 L1150.0,994.7 L1151.5,999.0 L1153.0,1002.5 L1154.5,1005.3 L1156.0,1008.5 L1157.5,1012.2 L1159.0,1015.8 L1160.5,1018.9 L1162.0,1021.4 L1163.5,1024.0 L1165.0,1027.0 L1166.5,1030.0 L1168.0,1033.2 L1169.5,1035.7 L1171.0,1037.8 L1172.5,1040.2 L1174.0,1043.0 L1175.5,1045.6 L1177.0,1047.5 L1178.5,1049.3 L1180.0,1051.7 L1181.5,1054.5 L1183.0,1057.2 L1184.5,1059.8 L1186.0,1061.8 L1187.5,1063.3 L1189.0,1065.0 L1190.5,1067.1 L1192.0,1068.7 L1193.5,1070.2 L1195.0,1072.2 L1196.5,1074.0 L1198.0,1075.1 L1199.5,1075.4 L1201.0,1076.3 L1202.5,1078.1 L1204.0,1079.5 L1205.5,1080.7 L1207.0,1081.3 L1208.5,1081.6 L1210.0,1083.0 L1211.5,1085.1 L1213.0,1085.7 L1214.5,1085.7 L1216.0,1086.3 L1217.5,1087.3 L1219.0,1088.5 L1220.5,1088.9 L1222.0,1089.5 L1223.5,1090.0 L1225.0,1090.0 L1226.5,1091.5 L1228.0,1092.1 L1229.5,1091.3 L1231.0,1091.3 L1232.5,1090.9 L1234.0,1090.5 L1235.5,1091.9 L1237.0,1093.7 L1238.5,1094.3 L1240.0,1093.5 L1241.5,1093.1 L1243.0,1093.3 L1244.5,1093.4 L1246.0,1092.8 L1247.5,1092.4 L1249.0,1093.6 L1250.5,1095.5 L1252.0,1096.8 L1253.5,1096.4 L1255.0,1095.3 L1256.5,1095.4 L1258.0,1095.3 L1259.5,1094.2 L1261.0,1093.3 L1262.5,1094.1 L1264.0,1095.2 L1265.5,1095.4 L1267.0,1094.9 L1268.5,1094.8 L1270.0,1095.4 L1271.5,1096.2 L1273.0,1096.5 L1274.5,1096.4 L1276.0,1096.1 L1277.5,1096.1 L1279.0,1096.7 L1280.5,1096.2 L1282.0,1095.4 L1283.5,1095.9 L1285.0,1096.2 L1286.5,1096.1 L1288.0,1096.7 L1289.5,1096.8 L1291.0,1096.0 L1292.5,1095.1 L1294.0,1094.7 L1295.5,1093.9 L1297.0,1092.4 L1298.5,1091.1 L1300.0,1090.4 L1301.5,1090.1 L1303.0,1090.1 L1304.5,1089.8 L1306.0,1088.9 L1307.5,1087.5 L1309.0,1087.1 L1310.5,1087.9 L1312.0,1089.4 L1313.5,1090.4 L1315.0,1089.3 L1316.5,1087.0 L1318.0,1086.2 L1319.5,1087.2 L1321.0,1087.2 L1322.5,1086.8 L1324.0,1087.4 L1325.5,1087.2 L1327.0,1085.8 L1328.5,1085.4 L1330.0,1086.4 L1331.5,1086.5 L1333.0,1085.4 L1334.5,1084.7 L1336.0,1085.1 L1337.5,1085.9 L1339.0,1086.1 L1340.5,1086.2 L1342.0,1085.4 L1343.5,1084.4 L1345.0,1084.0 L1346.5,1082.7 L1348.0,1081.3 L1349.5,1081.3 L1351.0,1081.5 L1352.5,1080.8 L1354.0,1080.1 L1355.5,1080.5 L1357.0,1081.1 L1358.5,1079.9 L1360.0,1078.9 L1361.5,1079.7 L1363.0,1081.3 L1364.5,1081.5 L1366.0,1080.6 L1367.5,1080.3 L1369.0,1080.0 L1370.5,1081.2 L1372.0,1082.9 L1373.5,1082.3 L1375.0,1080.4 L1376.5,1079.5 L1378.0,1079.4 L1379.5,1078.8 L1381.0,1078.8 L1382.5,1080.7 L1384.0,1081.7 L1385.5,1081.7 L1387.0,1081.2 L1388.5,1080.6 L1390.0,1081.0 L1391.5,1080.8 L1393.0,1081.0 L1394.5,1081.9 L1396.0,1082.8 L1397.5,1083.2 L1399.0,1081.9 L1400.5,1080.4 L1402.0,1080.1 L1403.5,1080.4 L1405.0,1079.9 L1406.5,1079.5 L1408.0,1080.6 L1409.5,1081.3 L1411.0,1080.6 L1412.5,1080.1 L1414.0,1080.2 L1415.5,1079.5 L1417.0,1079.9 L1418.5,1081.7 L1420.0,1082.6 L1421.5,1082.1 L1423.0,1081.0 L1424.5,1081.2 L1426.0,1082.3 L1427.5,1083.0 L1429.0,1081.8 L1430.5,1081.0 L1432.0,1081.7 L1433.5,1081.8 L1435.0,1082.0 L1436.5,1082.9 L1438.0,1083.6 L1439.5,1083.8 L1441.0,1083.4 L1442.5,1082.8 L1444.0,1083.2 L1445.5,1083.9 L1447.0,1084.5 L1448.5,1085.6 L1450.0,1085.4 L1451.5,1085.2 L1453.0,1086.2 L1454.5,1086.8 L1456.0,1087.3 L1457.5,1087.9 L1459.0,1088.3 L1460.5,1087.1 L1462.0,1085.8 L1463.5,1086.0 L1465.0,1087.3 L1466.5,1089.7 L1468.0,1091.0 L1469.5,1090.2 L1471.0,1089.9 L1472.5,1091.2 L1474.0,1092.0 L1475.5,1092.1 L1477.0,1092.7 L1478.5,1092.9 L1480.0,1092.9" fill="none" stroke="#ff0000" stroke-width="4.2" stroke-linejoin="round"/>
<path d="M178.0,688.5 L179.5,687.6 L181.0,686.8 L182.5,687.3 L184.0,687.5 L185.5,687.5 L187.0,688.5 L188.5,688.7 L190.0,688.4 L191.5,689.1 L193.0,689.0 L194.5,687.6 L196.0,687.6 L197.5,688.9 L199.0,689.3 L200.5,688.5 L202.0,688.1 L203.5,688.2 L205.0,688.9 L206.5,689.0 L208.0,688.7 L209.5,689.6 L211.0,690.1 L212.5,689.7 L214.0,689.1 L215.5,688.2 L217.0,687.5 L218.5,687.2 L220.0,687.6 L221.5,687.8 L223.0,687.2 L224.5,686.7 L226.0,686.4 L227.5,686.1 L229.0,686.3 L230.5,686.3 L232.0,686.1 L233.5,687.2 L235.0,688.4 L236.5,687.9 L238.0,686.5 L239.5,685.7 L241.0,686.5 L242.5,687.9 L244.0,687.5 L245.5,686.9 L247.0,688.1 L248.5,689.3 L250.0,689.0 L251.5,688.9 L253.0,688.9 L254.5,688.4 L256.0,688.2 L257.5,688.9 L259.0,689.9 L260.5,690.9 L262.0,691.7 L263.5,692.0 L265.0,692.1 L266.5,692.0 L268.0,692.1 L269.5,692.9 L271.0,693.1 L272.5,692.7 L274.0,693.0 L275.5,693.5 L277.0,694.6 L278.5,695.8 L280.0,695.3 L281.5,693.2 L283.0,692.4 L284.5,693.5 L286.0,694.8 L287.5,695.6 L289.0,694.8 L290.5,693.7 L292.0,694.7 L293.5,696.1 L295.0,696.4 L296.5,696.3 L298.0,695.9 L299.5,695.8 L301.0,696.2 L302.5,696.5 L304.0,696.4 L305.5,695.8 L307.0,695.5 L308.5,695.8 L310.0,696.2 L311.5,696.7 L313.0,696.5 L314.5,695.3 L316.0,694.2 L317.5,693.9 L319.0,694.1 L320.5,693.8 L322.0,693.2 L323.5,692.7 L325.0,692.5 L326.5,692.5 L328.0,692.4 L329.5,692.6 L331.0,692.4 L332.5,691.3 L334.0,690.4 L335.5,690.6 L337.0,690.7 L338.5,689.7 L340.0,689.5 L341.5,689.3 L343.0,688.9 L344.5,689.7 L346.0,689.9 L347.5,689.2 L349.0,688.7 L350.5,688.3 L352.0,687.9 L353.5,688.1 L355.0,689.2 L356.5,689.5 L358.0,688.5 L359.5,688.4 L361.0,689.9 L362.5,689.7 L364.0,688.1 L365.5,689.1 L367.0,690.0 L368.5,688.5 L370.0,687.5 L371.5,688.0 L373.0,687.7 L374.5,686.7 L376.0,686.6 L377.5,687.8 L379.0,688.0 L380.5,687.4 L382.0,687.0 L383.5,686.8 L385.0,687.3 L386.5,687.3 L388.0,686.8 L389.5,687.0 L391.0,687.7 L392.5,687.7 L394.0,687.3 L395.5,686.8 L397.0,686.7 L398.5,686.8 L400.0,686.7 L401.5,686.4 L403.0,684.9 L404.5,684.1 L406.0,686.2 L407.5,687.6 L409.0,686.4 L410.5,685.2 L412.0,684.8 L413.5,684.8 L415.0,684.3 L416.5,683.6 L418.0,683.3 L419.5,683.5 L421.0,684.0 L422.5,684.2 L424.0,684.2 L425.5,684.4 L427.0,684.6 L428.5,685.1 L430.0,684.7 L431.5,682.7 L433.0,682.6 L434.5,684.9 L436.0,685.7 L437.5,684.2 L439.0,683.2 L440.5,683.7 L442.0,684.2 L443.5,683.9 L445.0,683.7 L446.5,683.3 L448.0,683.2 L449.5,684.4 L451.0,685.9 L452.5,686.5 L454.0,686.3 L455.5,686.5 L457.0,687.7 L458.5,688.5 L460.0,688.9 L461.5,689.7 L463.0,690.6 L464.5,691.5 L466.0,692.4 L467.5,692.6 L469.0,691.3 L470.5,690.2 L472.0,691.0 L473.5,691.8 L475.0,692.0 L476.5,691.6 L478.0,691.0 L479.5,690.6 L481.0,690.8 L482.5,690.7 L484.0,688.8 L485.5,687.1 L487.0,687.1 L488.5,687.3 L490.0,688.2 L491.5,689.2 L493.0,688.0 L494.5,687.0 L496.0,687.5 L497.5,686.6 L499.0,686.0 L500.5,686.8 L502.0,686.7 L503.5,686.2 L505.0,686.4 L506.5,686.3 L508.0,686.1 L509.5,685.8 L511.0,685.3 L512.5,683.8 L514.0,683.2 L515.5,683.7 L517.0,682.6 L518.5,681.2 L520.0,680.6 L521.5,680.4 L523.0,680.4 L524.5,680.2 L526.0,680.3 L527.5,680.1 L529.0,678.3 L530.5,676.5 L532.0,675.8 L533.5,675.4 L535.0,675.3 L536.5,675.7 L538.0,675.3 L539.5,674.7 L541.0,674.1 L542.5,673.1 L544.0,673.1 L545.5,674.1 L547.0,673.9 L548.5,673.6 L550.0,673.4 L551.5,672.0 L553.0,671.3 L554.5,670.5 L556.0,670.0 L557.5,671.6 L559.0,671.3 L560.5,670.5 L562.0,671.3 L563.5,670.9 L565.0,669.5 L566.5,668.6 L568.0,667.7 L569.5,667.1 L571.0,667.3 L572.5,666.9 L574.0,666.6 L575.5,666.5 L577.0,665.6 L578.5,664.5 L580.0,663.5 L581.5,662.5 L583.0,662.5 L584.5,662.3 L586.0,661.1 L587.5,659.4 L589.0,657.5 L590.5,655.8 L592.0,655.1 L593.5,654.9 L595.0,654.1 L596.5,652.9 L598.0,651.0 L599.5,649.5 L601.0,648.8 L602.5,647.7 L604.0,646.0 L605.5,644.2 L607.0,642.5 L608.5,640.4 L610.0,638.3 L611.5,636.5 L613.0,634.7 L614.5,632.8 L616.0,630.6 L617.5,628.2 L619.0,625.9 L620.5,623.7 L622.0,621.6 L623.5,618.9 L625.0,615.8 L626.5,613.2 L628.0,610.2 L629.5,606.1 L631.0,602.4 L632.5,599.2 L634.0,596.5 L635.5,593.7 L637.0,590.2 L638.5,586.9 L640.0,584.4 L641.5,581.7 L643.0,578.8 L644.5,575.0 L646.0,569.9 L647.5,564.0 L649.0,557.8 L650.5,550.9 L652.0,543.4 L653.5,535.4 L655.0,527.1 L656.5,518.8 L658.0,510.2 L659.5,500.6 L661.0,489.0 L662.5,476.2 L664.0,463.7 L665.5,451.1 L667.0,438.9 L668.5,427.0 L670.0,417.2 L671.5,409.5 L673.0,403.7 L674.5,400.3 L676.0,397.5 L677.5,397.8 L679.0,399.5 L680.5,400.2 L682.0,401.5 L683.5,404.2 L685.0,407.6 L686.5,411.9 L688.0,417.5 L689.5,423.3 L691.0,428.5 L692.5,433.4 L694.0,437.5 L695.5,441.0 L697.0,444.3 L698.5,447.6 L700.0,450.6 L701.5,453.3 L703.0,456.5 L704.5,459.2 L706.0,461.3 L707.5,463.5 L709.0,465.3 L710.5,467.3 L712.0,469.6 L713.5,471.5 L715.0,473.0 L716.5,474.5 L718.0,476.3 L719.5,477.6 L721.0,478.3 L722.5,479.8 L724.0,481.5 L725.5,482.9 L727.0,483.0 L728.5,482.5 L730.0,483.9 L731.5,485.0 L733.0,484.5 L734.5,484.5 L736.0,484.8 L737.5,485.1 L739.0,485.9 L740.5,486.3 L742.0,485.8 L743.5,483.7 L745.0,482.7 L746.5,484.2 L748.0,484.9 L749.5,483.6 L751.0,482.4 L752.5,482.8 L754.0,483.2 L755.5,482.4 L757.0,481.6 L758.5,480.6 L760.0,479.4 L761.5,478.3 L763.0,477.9 L764.5,478.0 L766.0,477.0 L767.5,475.5 L769.0,474.5 L770.5,473.4 L772.0,472.1 L773.5,471.5 L775.0,471.1 L776.5,469.8 L778.0,467.6 L779.5,466.2 L781.0,465.6 L782.5,464.3 L784.0,462.4 L785.5,460.3 L787.0,458.2 L788.5,457.2 L790.0,456.9 L791.5,455.6 L793.0,454.1 L794.5,453.2 L796.0,451.4 L797.5,448.1 L799.0,444.9 L800.5,442.9 L802.0,441.6 L803.5,439.9 L805.0,436.8 L806.5,433.2 L808.0,430.7 L809.5,428.1 L811.0,424.4 L812.5,421.1 L814.0,418.4 L815.5,414.9 L817.0,411.3 L818.5,408.3 L820.0,405.0 L821.5,401.7 L823.0,398.7 L824.5,395.3 L826.0,391.3 L827.5,387.2 L829.0,383.2 L830.5,378.9 L832.0,374.7 L833.5,370.3 L835.0,365.5 L836.5,360.2 L838.0,354.0 L839.5,347.1 L841.0,339.6 L842.5,331.3 L844.0,322.4 L845.5,313.4 L847.0,303.5 L848.5,293.4 L850.0,285.4 L851.5,281.1 L853.0,278.3 L854.5,275.9 L856.0,272.1 L857.5,265.6 L859.0,258.1 L860.5,251.2 L862.0,247.2 L863.5,249.8 L865.0,256.9 L866.5,263.9 L868.0,265.9 L869.5,266.4 L871.0,267.7 L872.5,268.1 L874.0,267.5 L875.5,267.6 L877.0,268.7 L878.5,269.8 L880.0,269.8 L881.5,270.1 L883.0,271.4 L884.5,272.6 L886.0,274.4 L887.5,276.5 L889.0,277.6 L890.5,278.6 L892.0,280.4 L893.5,283.3 L895.0,286.8 L896.5,289.9 L898.0,292.9 L899.5,295.6 L901.0,298.6 L902.5,302.5 L904.0,306.1 L905.5,309.4 L907.0,312.7 L908.5,315.9 L910.0,318.1 L911.5,319.9 L913.0,322.8 L914.5,325.6 L916.0,327.7 L917.5,328.7 L919.0,328.1 L920.5,328.3 L922.0,328.6 L923.5,327.4 L925.0,327.6 L926.5,328.3 L928.0,328.2 L929.5,327.3 L931.0,325.2 L932.5,322.2 L934.0,318.9 L935.5,315.2 L937.0,311.4 L938.5,307.7 L940.0,303.7 L941.5,299.5 L943.0,294.9 L944.5,289.4 L946.0,283.3 L947.5,276.8 L949.0,270.2 L950.5,263.2 L952.0,256.3 L953.5,250.1 L955.0,244.2 L956.5,238.5 L958.0,232.7 L959.5,226.7 L961.0,221.4 L962.5,216.5 L964.0,211.3 L965.5,206.2 L967.0,201.2 L968.5,196.1 L970.0,191.6 L971.5,187.5 L973.0,183.2 L974.5,178.6 L976.0,174.9 L977.5,171.7 L979.0,168.3 L980.5,165.3 L982.0,162.6 L983.5,159.5 L985.0,156.7 L986.5,154.7 L988.0,152.3 L989.5,149.6 L991.0,148.1 L992.5,148.1 L994.0,148.1 L995.5,149.5 L997.0,152.6 L998.5,155.6 L1000.0,157.4 L1001.5,158.1 L1003.0,159.2 L1004.5,161.0 L1006.0,163.0 L1007.5,164.7 L1009.0,167.4 L1010.5,170.9 L1012.0,174.9 L1013.5,179.5 L1015.0,184.0 L1016.5,188.7 L1018.0,192.9 L1019.5,196.8 L1021.0,200.7 L1022.5,204.1 L1024.0,207.6 L1025.5,212.0 L1027.0,214.8 L1028.5,216.7 L1030.0,219.0 L1031.5,221.9 L1033.0,224.8 L1034.5,227.6 L1036.0,230.6 L1037.5,233.4 L1039.0,235.8 L1040.5,238.3 L1042.0,240.8 L1043.5,243.1 L1045.0,245.6 L1046.5,248.2 L1048.0,250.0 L1049.5,250.7 L1051.0,251.8 L1052.5,253.9 L1054.0,255.9 L1055.5,257.6 L1057.0,259.2 L1058.5,260.6 L1060.0,262.3 L1061.5,265.2 L1063.0,269.7 L1064.5,275.0 L1066.0,280.4 L1067.5,285.6 L1069.0,290.5 L1070.5,295.8 L1072.0,301.2 L1073.5,306.6 L1075.0,312.1 L1076.5,317.6 L1078.0,322.9 L1079.5,328.1 L1081.0,333.3 L1082.5,338.5 L1084.0,343.9 L1085.5,349.9 L1087.0,356.3 L1088.5,363.0 L1090.0,370.5 L1091.5,377.9 L1093.0,384.6 L1094.5,391.0 L1096.0,397.1 L1097.5,402.6 L1099.0,408.3 L1100.5,414.5 L1102.0,420.6 L1103.5,426.1 L1105.0,432.0 L1106.5,438.0 L1108.0,444.1 L1109.5,450.3 L1111.0,457.0 L1112.5,463.5 L1114.0,469.8 L1115.5,476.1 L1117.0,482.2 L1118.5,488.3 L1120.0,494.1 L1121.5,499.7 L1123.0,505.8 L1124.5,512.1 L1126.0,518.1 L1127.5,524.1 L1129.0,530.4 L1130.5,536.8 L1132.0,542.9 L1133.5,548.8 L1135.0,554.1 L1136.5,559.2 L1138.0,564.5 L1139.5,569.0 L1141.0,573.1 L1142.5,577.3 L1144.0,581.4 L1145.5,585.1 L1147.0,588.3 L1148.5,591.8 L1150.0,595.6 L1151.5,599.5 L1153.0,603.3 L1154.5,606.8 L1156.0,610.0 L1157.5,612.7 L1159.0,615.0 L1160.5,617.8 L1162.0,620.7 L1163.5,623.1 L1165.0,624.9 L1166.5,626.8 L1168.0,628.6 L1169.5,630.2 L1171.0,632.5 L1172.5,635.0 L1174.0,637.1 L1175.5,638.7 L1177.0,640.6 L1178.5,642.5 L1180.0,643.6 L1181.5,644.8 L1183.0,646.1 L1184.5,648.2 L1186.0,650.5 L1187.5,652.0 L1189.0,653.1 L1190.5,654.8 L1192.0,656.6 L1193.5,658.0 L1195.0,659.6 L1196.5,661.2 L1198.0,662.4 L1199.5,663.1 L1201.0,665.0 L1202.5,668.1 L1204.0,669.3 L1205.5,669.4 L1207.0,671.1 L1208.5,673.2 L1210.0,674.7 L1211.5,675.7 L1213.0,676.6 L1214.5,678.0 L1216.0,679.5 L1217.5,680.8 L1219.0,681.8 L1220.5,683.0 L1222.0,684.6 L1223.5,685.1 L1225.0,684.6 L1226.5,684.9 L1228.0,686.3 L1229.5,687.7 L1231.0,688.6 L1232.5,689.0 L1234.0,688.9 L1235.5,688.4 L1237.0,688.9 L1238.5,689.9 L1240.0,689.3 L1241.5,688.3 L1243.0,687.9 L1244.5,687.9 L1246.0,689.1 L1247.5,690.3 L1249.0,691.0 L1250.5,691.3 L1252.0,690.9 L1253.5,690.9 L1255.0,690.8 L1256.5,689.5 L1258.0,689.1 L1259.5,690.2 L1261.0,690.6 L1262.5,690.0 L1264.0,689.9 L1265.5,690.7 L1267.0,691.3 L1268.5,691.3 L1270.0,691.7 L1271.5,692.7 L1273.0,693.2 L1274.5,694.1 L1276.0,694.7 L1277.5,692.9 L1279.0,691.6 L1280.5,691.8 L1282.0,692.4 L1283.5,691.4 L1285.0,690.1 L1286.5,691.0 L1288.0,693.0 L1289.5,693.1 L1291.0,691.6 L1292.5,690.9 L1294.0,690.5 L1295.5,689.6 L1297.0,689.0 L1298.5,688.1 L1300.0,687.0 L1301.5,686.5 L1303.0,686.8 L1304.5,686.6 L1306.0,686.0 L1307.5,685.3 L1309.0,684.7 L1310.5,683.8 L1312.0,683.0 L1313.5,683.1 L1315.0,683.4 L1316.5,684.0 L1318.0,684.0 L1319.5,682.5 L1321.0,682.4 L1322.5,683.9 L1324.0,683.0 L1325.5,681.4 L1327.0,681.9 L1328.5,681.5 L1330.0,680.0 L1331.5,680.3 L1333.0,681.1 L1334.5,681.4 L1336.0,681.0 L1337.5,680.1 L1339.0,679.4 L1340.5,678.1 L1342.0,676.6 L1343.5,676.1 L1345.0,675.6 L1346.5,674.9 L1348.0,674.8 L1349.5,674.6 L1351.0,674.8 L1352.5,676.0 L1354.0,675.7 L1355.5,673.9 L1357.0,673.9 L1358.5,674.8 L1360.0,675.2 L1361.5,674.9 L1363.0,674.1 L1364.5,674.9 L1366.0,675.8 L1367.5,676.0 L1369.0,675.7 L1370.5,675.2 L1372.0,675.4 L1373.5,675.5 L1375.0,675.5 L1376.5,675.7 L1378.0,676.2 L1379.5,675.7 L1381.0,674.5 L1382.5,674.7 L1384.0,675.3 L1385.5,675.0 L1387.0,675.7 L1388.5,676.9 L1390.0,677.2 L1391.5,676.9 L1393.0,675.7 L1394.5,675.0 L1396.0,675.7 L1397.5,677.0 L1399.0,678.4 L1400.5,678.6 L1402.0,678.3 L1403.5,678.0 L1405.0,677.8 L1406.5,678.3 L1408.0,679.0 L1409.5,679.2 L1411.0,678.3 L1412.5,677.3 L1414.0,677.1 L1415.5,677.9 L1417.0,678.6 L1418.5,678.5 L1420.0,677.7 L1421.5,677.3 L1423.0,677.7 L1424.5,678.0 L1426.0,677.6 L1427.5,677.3 L1429.0,677.5 L1430.5,677.6 L1432.0,677.1 L1433.5,677.1 L1435.0,677.7 L1436.5,678.3 L1438.0,678.8 L1439.5,678.6 L1441.0,677.8 L1442.5,677.3 L1444.0,679.0 L1445.5,680.2 L1447.0,679.0 L1448.5,678.6 L1450.0,679.9 L1451.5,681.3 L1453.0,681.6 L1454.5,681.4 L1456.0,682.1 L1457.5,683.3 L1459.0,684.5 L1460.5,685.4 L1462.0,685.2 L1463.5,684.8 L1465.0,684.8 L1466.5,684.4 L1468.0,684.4 L1469.5,685.5 L1471.0,685.8 L1472.5,685.3 L1474.0,685.7 L1475.5,686.8 L1477.0,687.5 L1478.5,688.0 L1480.0,688.5" fill="none" stroke="#0000ff" stroke-width="4.4" stroke-linejoin="round"/>
<line x1="863.3" y1="230" x2="863.3" y2="549" stroke="#0000ff" stroke-width="3.2" stroke-dasharray="14,11.4"/>
<line x1="853.3" y1="525.5" x2="853.3" y2="768" stroke="#ff0000" stroke-width="3.2" stroke-dasharray="14,10.7"/>
<line x1="888" y1="302" x2="912" y2="386" stroke="#0000ff" stroke-width="2.2"/>
<polygon points="917.7,404.4 904.5,381.5 918.2,377.5" fill="#0000ff"/>
<text x="601.5" y="366.9" font-size="62" font-family="Liberation Serif, serif" fill="#0000ff" textLength="118" lengthAdjust="spacingAndGlyphs">TPA</text>
<text x="959" y="127.7" font-size="63" font-family="Liberation Serif, serif" fill="#0000ff" textLength="121" lengthAdjust="spacingAndGlyphs">TPA</text>
<text x="910" y="467.4" font-size="74" font-family="Liberation Serif, serif" fill="#0000ff">D</text>
<text x="1068.3" y="254.4" font-size="78" font-family="Liberation Serif, serif" fill="#0000ff">G</text>
<text x="672.7" y="209.4" font-size="61.5" font-family="Liberation Serif, serif" fill="#0000ff">1333.5 cm</text><text x="931.5" y="180.4" font-size="40" font-family="Liberation Serif, serif" fill="#0000ff" textLength="30.9" lengthAdjust="spacingAndGlyphs">-1</text>
<text x="798.5" y="848.8" font-size="61.5" font-family="Liberation Serif, serif" fill="#ff0000">1324.5 cm</text><text x="1057.5" y="819.2" font-size="40" font-family="Liberation Serif, serif" fill="#ff0000" textLength="30.9" lengthAdjust="spacingAndGlyphs">-1</text>
<text x="192" y="632" font-size="59.5" font-family="Liberation Serif, serif" fill="#0000ff" textLength="387" lengthAdjust="spacingAndGlyphs">Diamond pillars</text>
<text x="192" y="971.3" font-size="59.5" font-family="Liberation Serif, serif" fill="#ff0000" textLength="385.5" lengthAdjust="spacingAndGlyphs">Diamond pillars</text>
<text x="281" y="1045.6" font-size="59.5" font-family="Liberation Serif, serif" fill="#ff0000" textLength="178" lengthAdjust="spacingAndGlyphs">+ AAO</text>
</g>
</svg>
</body></html>
